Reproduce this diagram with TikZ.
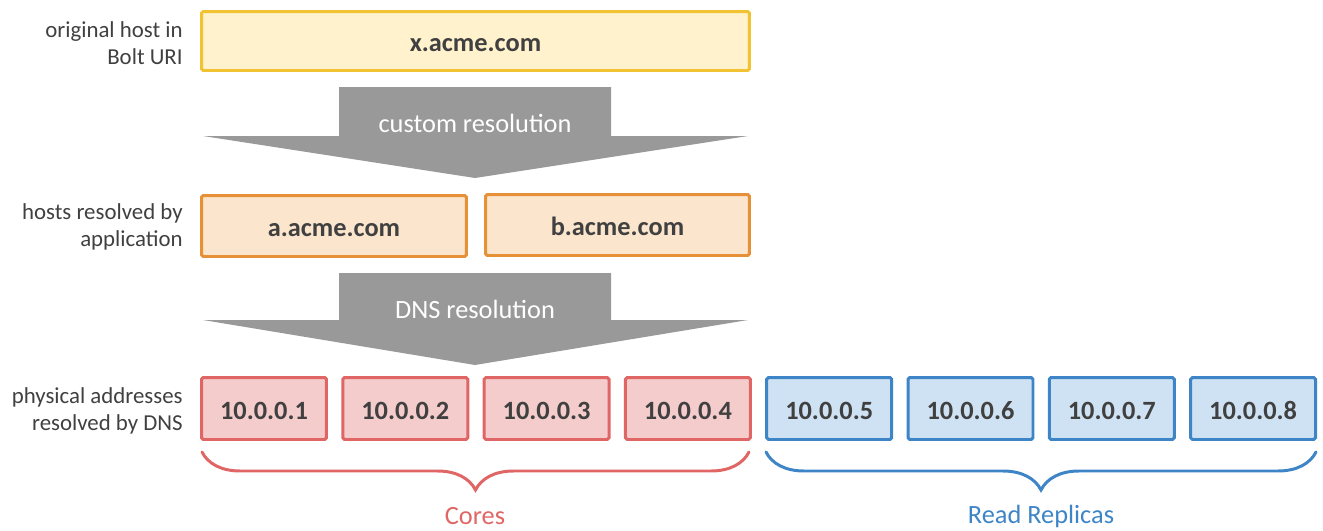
\documentclass[tikz,border=0pt]{standalone}
\usepackage{fontspec}
\setmainfont{Carlito}
\usetikzlibrary{decorations.pathreplacing}
\definecolor{txtgray}{HTML}{404040}
\definecolor{arrowgray}{HTML}{999999}
\definecolor{yelline}{HTML}{F1C232}
\definecolor{yelfill}{HTML}{FFF2CC}
\definecolor{oraline}{HTML}{E69138}
\definecolor{orafill}{HTML}{FCE5CD}
\definecolor{coreline}{HTML}{E06666}
\definecolor{corefill}{HTML}{F4CCCC}
\definecolor{replline}{HTML}{3D85C6}
\definecolor{replfill}{HTML}{CFE2F3}
\tikzset{
	hostbox/.style={draw, line width=1.7pt, rounded corners=1pt, inner sep=0pt,
		text height=12.5pt, text depth=0pt,
		text=txtgray, font=\fontsize{15}{18}\selectfont\bfseries},
	sidelabel/.style={anchor=east, align=right, inner sep=0pt, text=txtgray,
		font=\fontsize{13}{15.5}\selectfont},
	arrowlabel/.style={text=white, inner sep=0pt, font=\fontsize{15}{18}\selectfont},
	bracelabel/.style={inner sep=0pt, font=\fontsize{15}{18}\selectfont},
	braceline/.style={decorate, line width=1.7pt, line cap=round,
		decoration={brace, mirror, amplitude=0.76cm}}
}
\begin{document}
\begin{tikzpicture}[x=0.02cm,y=-0.02cm]
	\useasboundingbox (0,0) rectangle (1323,531);
	%Labels on the left
	\node [sidelabel] (lblorig) at (183,43) {original host in\\Bolt URI};
	\node [sidelabel] (lblapp) at (183,227) {hosts resolved by\\application};
	\node [sidelabel] (lbldns) at (183,411) {physical addresses\\resolved by DNS};
	%Original host
	\node [hostbox, draw=yelline, fill=yelfill, minimum width=10.96cm, minimum height=1.18cm] (hostx) at (475.5,41) {x.acme.com};
	%First big arrow
	\fill [arrowgray] (339,87) -- (611,87) -- (611,136) -- (748,136) -- (475,178) -- (203,136) -- (339,136) -- cycle;
	\node [arrowlabel] (custom) at (475,123) {custom resolution};
	%Hosts resolved by the application
	\node [hostbox, draw=oraline, fill=orafill, minimum width=5.3cm, minimum height=1.22cm] (hosta) at (334,226) {a.acme.com};
	\node [hostbox, draw=oraline, fill=orafill, minimum width=5.28cm, minimum height=1.22cm] (hostb) at (617.5,225) {b.acme.com};
	%Second big arrow
	\fill [arrowgray] (339,273) -- (611,273) -- (611,320) -- (748,320) -- (475,365) -- (203,320) -- (339,320) -- cycle;
	\node [arrowlabel] (dns) at (475,309) {DNS resolution};
	%Physical addresses
	\foreach \i in {1,...,4} {
		\node [hostbox, draw=coreline, fill=corefill, minimum width=2.5cm, minimum height=1.24cm] (ip\i) at ({264+141.3*(\i-1)},408.5) {10.0.0.\i};
	}
	\foreach \i in {5,...,8} {
		\node [hostbox, draw=replline, fill=replfill, minimum width=2.5cm, minimum height=1.24cm] (ip\i) at ({264+141.3*(\i-1)},408.5) {10.0.0.\i};
	}
	%Braces
	\coordinate (coresL) at (202,452);
	\coordinate (coresR) at (749,452);
	\coordinate (replL) at (766,452);
	\coordinate (replR) at (1316,452);
	\draw [braceline, coreline] (coresL) -- (coresR);
	\draw [braceline, replline] (replL) -- (replR);
	\node [bracelabel, text=coreline] (cores) at (475,516) {Cores};
	\node [bracelabel, text=replline] (replicas) at (1041,516) {Read Replicas};
\end{tikzpicture}
\end{document}
